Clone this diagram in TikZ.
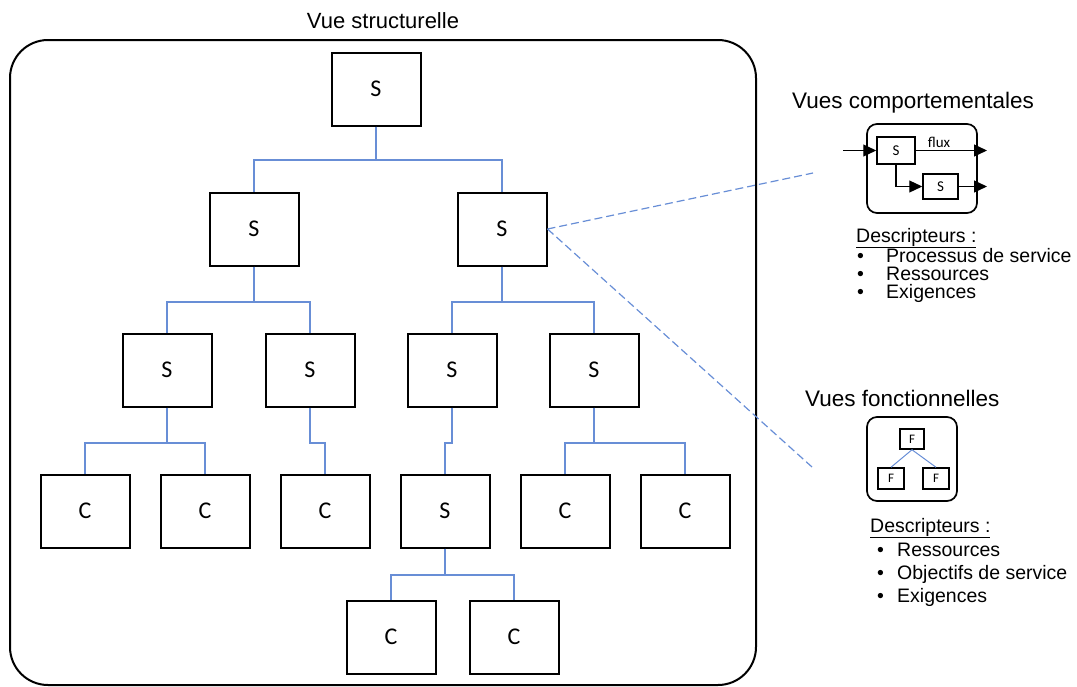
\documentclass[tikz,border=0pt]{standalone}
\usepackage{fontspec}
\setmainfont{Liberation Sans}
\newfontfamily\boxfont{Carlito}
\usetikzlibrary{arrows.meta,positioning}

\definecolor{linkblue}{RGB}{104,142,214}

\begin{document}
\begin{tikzpicture}[x=1pt, y=-1pt,
    sbox/.style={draw, line width=2pt, minimum width=89pt, minimum height=73pt,
                 inner sep=0pt, font=\boxfont\fontsize{24}{28}\selectfont},
    mini/.style={draw, line width=1.5pt, inner sep=0pt,
                 font=\boxfont\fontsize{15}{17}\selectfont},
    frame/.style={draw, line width=1.7pt, rounded corners=10pt, inner sep=0pt},
    link/.style={draw=linkblue, line width=1.3pt},
    zoomline/.style={linkblue, line width=1.2pt, dash pattern=on 8pt off 4pt},
    flow/.style={line width=1.2pt, -{Triangle[length=13pt,width=12pt]}},
    heading/.style={anchor=base west, inner sep=0pt, font=\fontsize{22.5}{26}\selectfont},
    lbl/.style={anchor=base west, inner sep=0pt, font=\fontsize{19.5}{22}\selectfont}
  ]
  \useasboundingbox (0,0) rectangle (1077,686);

  % structural view
  \node[anchor=base, inner sep=0pt, font=\fontsize{22}{26}\selectfont] (title) at (383,28) {Vue structurelle};
  \draw[line width=2pt, rounded corners=38pt] (10,40) rectangle (756,685);

  \node[sbox] (s0) at (376,89) {S};
  \node[sbox] (s1) at (254,229) {S};
  \node[sbox] (s2) at (502,229) {S};
  \node[sbox] (s11) at (167,370) {S};
  \node[sbox] (s12) at (310,370) {S};
  \node[sbox] (s21) at (452,370) {S};
  \node[sbox] (s22) at (594,370) {S};
  \node[sbox] (c1) at (85,511) {C};
  \node[sbox] (c2) at (205,511) {C};
  \node[sbox] (c3) at (325,511) {C};
  \node[sbox] (s3) at (445,511) {S};
  \node[sbox] (c4) at (565,511) {C};
  \node[sbox] (c5) at (685,511) {C};
  \node[sbox] (c6) at (391,637) {C};
  \node[sbox] (c7) at (514,637) {C};

  \foreach \p/\c/\h in {s0/s1/33.5, s0/s2/33.5, s1/s11/35.5, s1/s12/35.5,
                        s2/s21/35.5, s2/s22/35.5, s11/c1/35.5, s11/c2/35.5,
                        s12/c3/35.5, s21/s3/35.5, s22/c4/35.5, s22/c5/35.5,
                        s3/c6/26.5, s3/c7/26.5}
    \draw[link] (\p.south) -- ++(0,\h) -| (\c.north);

  % behavioural view
  \node[heading] (vc) at (792,108) {Vues comportementales};
  \node[frame, minimum width=110pt, minimum height=89pt] (cbox) at (922,168.5) {};
  \node[mini, minimum width=38pt, minimum height=27pt] (cs1) at (896,150.5) {S};
  \node[mini, minimum width=35pt, minimum height=25pt] (cs2) at (940.5,186.5) {S};
  \coordinate (cin) at (843,150.5);
  \coordinate (cout1) at (987,150.5);
  \coordinate (cout2) at (987,186.5);
  \draw[flow] (cin) -- (cs1);
  \draw[flow] (cs1) -- (cout1);
  \draw[flow] (cs1.south) |- (cs2.west);
  \draw[flow] (cs2) -- (cout2);
  \node[anchor=base, inner sep=0pt, font=\boxfont\fontsize{15}{17}\selectfont] (fluxlbl) at (939,147) {flux};

  \node[lbl] (cdesc) at (856,242) {\underline{Descripteurs :}};
  \foreach \txt [count=\i] in {Processus de service, Ressources, Exigences} {
    \node[lbl] (cb\i) at (857,244+18*\i) {\textbullet};
    \node[lbl] (ci\i) at (886,244+18*\i) {\txt};
  }

  % functional view
  \node[heading] (vf) at (805,406) {Vues fonctionnelles};
  \node[frame, minimum width=90pt, minimum height=84pt] (fbox) at (912,459) {};
  \node[mini, minimum width=24pt, minimum height=20pt, font=\boxfont\fontsize{13}{15}\selectfont] (ft) at (912,439) {F};
  \node[mini, minimum width=26pt, minimum height=21pt, font=\boxfont\fontsize{13}{15}\selectfont] (fl) at (891,478.5) {F};
  \node[mini, minimum width=26pt, minimum height=21pt, font=\boxfont\fontsize{13}{15}\selectfont] (fr) at (936,478.5) {F};
  \draw[link, line width=1pt] (ft.south) -- (fl.north);
  \draw[link, line width=1pt] (ft.south) -- (fr.north);

  \node[lbl] (fdesc) at (870,532) {\underline{Descripteurs :}};
  \foreach \txt [count=\i] in {Ressources, Objectifs de service, Exigences} {
    \node[lbl] (fb\i) at (877,533+23*\i) {\textbullet};
    \node[lbl] (fi\i) at (897,533+23*\i) {\txt};
  }

  % zoom lines
  \coordinate (dzu) at (813,173);
  \coordinate (dzd) at (812,467);
  \draw[zoomline] (s2.east) -- (dzu);
  \draw[zoomline] (s2.east) -- (dzd);
\end{tikzpicture}
\end{document}
